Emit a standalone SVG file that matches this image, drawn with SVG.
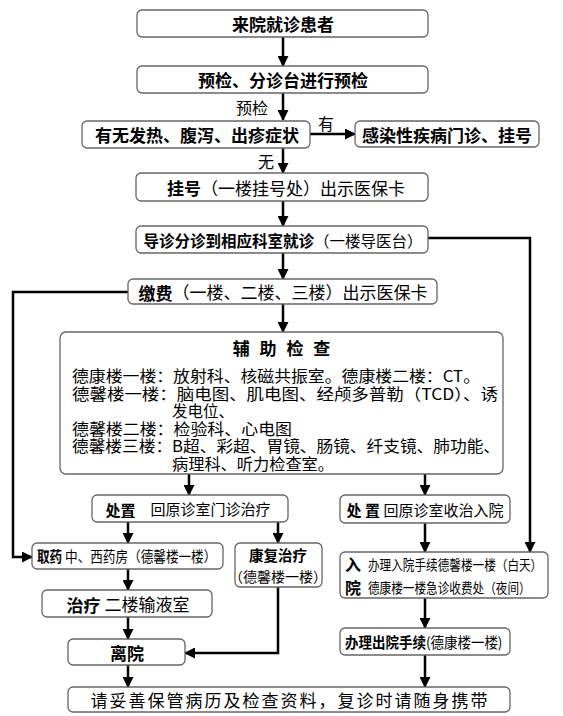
<svg xmlns="http://www.w3.org/2000/svg" width="563" height="716" viewBox="0 0 563 716">
<defs>
<marker id="ah" markerUnits="userSpaceOnUse" markerWidth="11" markerHeight="11" refX="10" refY="5.5" orient="auto"><path d="M0,0 L11,5.5 L0,11 z" fill="#000"/></marker>
<style>
.box{fill:#fff;stroke:#666;stroke-width:1.3}
text{font-family:"Noto Sans CJK SC","Liberation Sans",sans-serif;fill:#000;dominant-baseline:central}
.t{font-size:17px;text-anchor:middle}
.b{font-weight:bold}
.s{font-size:15.5px}
.c{fill:none;stroke:#000;stroke-width:2.5;marker-end:url(#ah)}
</style>
</defs>
<rect width="563" height="716" fill="#fff"/>
<g id="connectors">
<path class="c" d="M283,37 V66"/>
<path class="c" d="M283,93 V120"/>
<path class="c" d="M310,134 H355"/>
<path class="c" d="M283,148 V173"/>
<path class="c" d="M283,201 V226"/>
<path class="c" d="M428,238 H530 V552"/>
<path class="c" d="M283,253 V279"/>
<path class="c" d="M128,292 H13 V557 H32"/>
<path class="c" d="M283,304 V332"/>
<path class="c" d="M189,474 V495"/>
<path class="c" d="M425,474 V495"/>
<path class="c" d="M128,522 V543"/>
<path class="c" d="M278,522 V543"/>
<path class="c" d="M425,523 V552"/>
<path class="c" d="M128,569 V590"/>
<path class="c" d="M128,617 V639"/>
<path class="c" d="M278,587 V653 H185"/>
<path class="c" d="M128,665 V687"/>
<path class="c" d="M425,598 V628"/>
<path class="c" d="M425,655 V687"/>
<text x="252" y="107" style="font-size:16px;text-anchor:middle">预检</text>
<text x="326" y="123" style="font-size:16px;text-anchor:middle">有</text>
<text x="266" y="161" style="font-size:16px;text-anchor:middle">无</text>
</g>
<g id="n1"><rect class="box" x="137" y="10" width="291" height="27" rx="5"/><text class="t b" x="283" y="23.5">来院就诊患者</text></g>
<g id="n2"><rect class="box" x="137" y="66" width="291" height="27" rx="5"/><text class="t b" x="283" y="79.5">预检、分诊台进行预检</text></g>
<g id="n3"><rect class="box" x="82" y="121" width="228" height="27" rx="5"/><text class="t b" x="197" y="134.5">有无发热、腹泻、出疹症状</text></g>
<g id="n4"><rect class="box" x="355" y="121" width="184" height="26" rx="5"/><text class="t b" x="447" y="134">感染性疾病门诊、挂号</text></g>
<g id="n5"><rect class="box" x="136" y="173" width="292" height="28" rx="5"/><text class="t" x="286" y="187"><tspan class="b">挂号</tspan>（一楼挂号处）出示医保卡</text></g>
<g id="n6"><rect class="box" x="136" y="226" width="292" height="27" rx="5"/><text class="t" x="283" y="239.5" style="font-size:15.5px"><tspan class="b">导诊分诊到相应科室就诊</tspan>（一楼导医台）</text></g>
<g id="n7"><rect class="box" x="128" y="279" width="309" height="25" rx="5"/><text class="t" x="283" y="291.5"><tspan class="b">缴费</tspan>（一楼、二楼、三楼）出示医保卡</text></g>
<g id="n8"><rect class="box" x="60" y="332" width="443" height="142" rx="6"/>
<text class="t b" x="283" y="347" style="letter-spacing:3px">辅 助 检 查</text>
<text class="s" x="72" y="375" textLength="408" lengthAdjust="spacingAndGlyphs">德康楼一楼：放射科、核磁共振室。德康楼二楼：CT。</text>
<text class="s" x="72" y="392.5" textLength="426" lengthAdjust="spacingAndGlyphs">德馨楼一楼：脑电图、肌电图、经颅多普勒（TCD）、诱</text>
<text class="s" x="172" y="410" textLength="62" lengthAdjust="spacingAndGlyphs">发电位、</text>
<text class="s" x="72" y="427.5" textLength="220" lengthAdjust="spacingAndGlyphs">德馨楼二楼：检验科、心电图</text>
<text class="s" x="72" y="445" textLength="428" lengthAdjust="spacingAndGlyphs">德馨楼三楼：B超、彩超、胃镜、肠镜、纤支镜、肺功能、</text>
<text class="s" x="172" y="462.5" textLength="162" lengthAdjust="spacingAndGlyphs">病理科、听力检查室。</text>
</g>
<g id="n9"><rect class="box" x="92" y="495" width="196" height="27" rx="5"/><text class="t" x="188" y="508.5" style="font-size:15px"><tspan class="b">处置</tspan>　回原诊室门诊治疗</text></g>
<g id="n10"><rect class="box" x="340" y="495" width="170" height="28" rx="5"/><text class="t" x="425" y="509" style="font-size:15px"><tspan class="b">处 置</tspan> 回原诊室收治入院</text></g>
<g id="n11"><rect class="box" x="32" y="543" width="191" height="26" rx="5"/><text transform="translate(37,556) scale(0.87,1)" x="0" y="0" style="font-size:14.5px"><tspan class="b">取药</tspan> 中、西药房（德馨楼一楼）</text></g>
<g id="n12"><rect class="box" x="235" y="543" width="87" height="44" rx="5"/><text class="t b" x="278" y="554" style="font-size:14.5px">康复治疗</text><text class="t" x="278" y="576" style="font-size:14px">（德馨楼一楼）</text></g>
<g id="n13"><rect class="box" x="340" y="552" width="208" height="46" rx="5"/>
<text class="b" x="345" y="564" style="font-size:16px">入</text><text class="b" x="345" y="587" style="font-size:16px">院</text>
<text transform="translate(368,564) scale(0.83,1)" x="0" y="0" style="font-size:14px">办理入院手续德馨楼一楼（白天）</text>
<text transform="translate(368,587) scale(0.83,1)" x="0" y="0" style="font-size:14px">德康楼一楼急诊收费处（夜间）</text></g>
<g id="n14"><rect class="box" x="42" y="590" width="170" height="27" rx="5"/><text class="t" x="128" y="603.5"><tspan class="b">治疗</tspan> 二楼输液室</text></g>
<g id="n15"><rect class="box" x="68" y="639" width="117" height="26" rx="5"/><text class="t b" x="127" y="652">离院</text></g>
<g id="n16"><rect class="box" x="340" y="628" width="170" height="27" rx="5"/><text transform="translate(345,641.5) scale(0.93,1)" x="0" y="0" style="font-size:14.5px"><tspan class="b">办理出院手续</tspan>(德康楼一楼)</text></g>
<g id="n17"><rect class="box" x="68" y="687" width="442" height="25" rx="5"/><text class="t" x="290" y="699.5" style="letter-spacing:2px">请妥善保管病历及检查资料，复诊时请随身携带</text></g>
</svg>
